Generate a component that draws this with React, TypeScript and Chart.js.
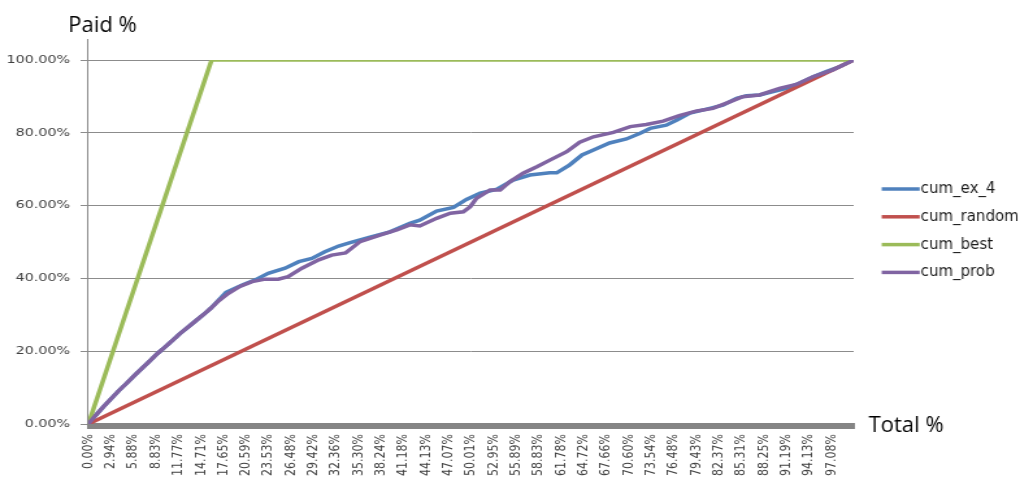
import React, { useEffect, useRef } from 'react';
import { Chart, registerables } from 'chart.js';

Chart.register(...registerables);

// Category labels shown along the bottom axis (share of total, %)
const xTickLabels = [
  '0.00%', '2.94%', '5.88%', '8.83%', '11.77%', '14.71%', '17.65%', '20.59%', '23.53%',
  '26.48%', '29.42%', '32.36%', '35.30%', '38.24%', '41.18%', '44.13%', '47.07%', '50.01%',
  '52.95%', '55.89%', '58.83%', '61.78%', '64.72%', '67.66%', '70.60%', '73.54%', '76.48%',
  '79.43%', '82.37%', '85.31%', '88.25%', '91.19%', '94.13%', '97.08%',
];
const yTickValues = [0, 20, 40, 60, 80, 100];

// cum_ex_4
const exTotal = [
  0, 1, 2, 3, 4, 5, 6, 7, 8, 9, 10, 11, 12, 13, 14, 15, 16, 17, 18,
  20.1, 21.8, 23.5, 25.7, 27.5, 29.2, 30.9, 32.7, 34.2,
  36.8, 39.4, 42.0, 43.3, 45.5, 47.7, 49.4, 51.2, 53.4, 55.5,
  57.7, 60.3, 61.2, 62.9, 64.5, 66.0, 68.1, 70.3, 72.1, 73.4,
  75.5, 76.9, 78.6, 80.8, 82.9, 84.7, 86.0, 87.7, 89.5, 91.2,
  92.9, 94.7, 96.4, 98.2, 100,
];
const exPaid = [
  0, 2.5, 4.8, 7.0, 9.2, 11.2, 13.3, 15.3, 17.3, 19.3, 21.1, 23.0, 24.9, 26.6, 28.3, 30.0, 31.8, 34.0, 36.2,
  38.2, 39.6, 41.4, 42.8, 44.6, 45.5, 47.3, 48.9, 49.8,
  51.3, 52.8, 55.1, 56.0, 58.5, 59.5, 61.7, 63.4, 64.5, 67.0,
  68.4, 69.0, 69.0, 71.2, 73.9, 75.3, 77.2, 78.3, 79.9, 81.2,
  82.1, 83.5, 85.4, 86.5, 87.6, 89.5, 90.2, 90.4, 91.3, 92.2,
  93.6, 95.4, 96.8, 98.2, 100,
];

// cum_random
const randomTotal = [0, 100];
const randomPaid = [0, 100];

// cum_best
const bestTotal = [0, 16.1, 100];
const bestPaid = [0, 100, 100];

// cum_prob
const probTotal = [
  0, 1, 2, 3, 4, 5, 6, 7, 8, 9, 10, 11, 12, 13, 14, 15, 16, 17,
  18.3, 19.8, 21.4, 23.1, 24.8, 26.1, 27.9, 30.1, 31.8, 33.6,
  35.5, 38.1, 40.3, 42.0, 43.3, 45.5, 47.3, 49.0, 49.9, 50.7,
  52.5, 53.8, 55.1, 56.8, 58.6, 60.3, 62.5, 64.2, 66.0, 68.6,
  70.8, 72.9, 75.1, 77.2, 79.5, 81.6, 83.8, 85.5, 87.7, 90.3,
  92.5, 94.7, 97.3, 100,
];
const probPaid = [
  0, 2.5, 4.8, 7.0, 9.2, 11.2, 13.3, 15.3, 17.3, 19.3, 21.1, 23.0, 24.9, 26.6, 28.3, 30.0, 31.8, 33.8,
  35.9, 37.8, 39.1, 39.8, 39.8, 40.5, 42.8, 45.1, 46.4, 47.0,
  50.1, 51.9, 53.3, 54.7, 54.4, 56.5, 57.9, 58.3, 59.7, 62.0,
  64.3, 64.3, 66.6, 68.9, 70.7, 72.5, 74.8, 77.4, 78.9, 80.1,
  81.7, 82.3, 83.2, 84.7, 86.0, 86.7, 88.5, 89.9, 90.4, 92.2,
  93.3, 95.4, 97.3, 100,
];

const seriesNames = ['cum_ex_4', 'cum_random', 'cum_best', 'cum_prob'];
const seriesColors = ['#4F81BD', '#C0504D', '#9BBB59', '#8064A2'];

// The canvas is drawn narrow and widened horizontally on screen.
const CANVAS_W = 785;
const CANVAS_H = 479;
const STRETCH = 1020 / CANVAS_W;

const toPoints = (xs: number[], ys: number[]) => xs.map((x, i) => ({ x, y: ys[i] }));

const decorations = {
  id: 'decorations',
  beforeDatasetsDraw(chart: any) {
    const { ctx, chartArea } = chart;
    ctx.save();
    // vertical axis, running a little above the plot
    ctx.strokeStyle = '#8c8c8c';
    ctx.lineWidth = 1;
    ctx.beginPath();
    ctx.moveTo(chartArea.left - 0.5, chartArea.top - 21);
    ctx.lineTo(chartArea.left - 0.5, chartArea.bottom);
    ctx.stroke();
    // heavy horizontal axis bar
    ctx.fillStyle = '#858585';
    ctx.fillRect(chartArea.left - 1, chartArea.bottom - 1, chartArea.right - chartArea.left + 2, 6);
    ctx.restore();
  },
  afterDraw(chart: any) {
    const { ctx, chartArea } = chart;
    const leftS = chartArea.left * STRETCH;
    const rightS = chartArea.right * STRETCH;
    ctx.save();
    ctx.scale(1 / STRETCH, 1);
    ctx.textAlign = 'left';
    ctx.textBaseline = 'alphabetic';
    ctx.fillStyle = '#000000';
    ctx.font = '22px "Open Sans"';
    ctx.fillText('Paid %', leftS - 20, chartArea.top - 28);
    ctx.fillText('Total %', rightS + 15, chartArea.bottom + 8);

    ctx.font = '15px "DejaVu Sans"';
    ctx.lineWidth = 3.5;
    chart.data.datasets.forEach((ds: any, i: number) => {
      const y = chartArea.top + 129 + i * 27.8;
      ctx.strokeStyle = ds.borderColor;
      ctx.beginPath();
      ctx.moveTo(rightS + 28, y);
      ctx.lineTo(rightS + 66, y);
      ctx.stroke();
      ctx.fillStyle = '#1a1a1a';
      ctx.fillText(ds.label, rightS + 67, y + 4);
    });
    ctx.restore();
  },
};

export default function App() {
  const canvasRef = useRef<HTMLCanvasElement | null>(null);

  useEffect(() => {
    document.body.style.margin = '0';
    const canvas = canvasRef.current;
    if (!canvas) return;

    const series = [
      toPoints(exTotal, exPaid),
      toPoints(randomTotal, randomPaid),
      toPoints(bestTotal, bestPaid),
      toPoints(probTotal, probPaid),
    ];

    const chart = new Chart(canvas, {
      type: 'line',
      data: {
        datasets: series.map((data, i) => ({
          label: seriesNames[i],
          data,
          borderColor: seriesColors[i],
          backgroundColor: seriesColors[i],
          borderWidth: 3.5,
          pointRadius: 0,
          tension: 0,
          fill: false,
          order: series.length - 1 - i,
        })),
      },
      options: {
        responsive: false,
        animation: false,
        devicePixelRatio: 1,
        layout: { padding: { left: 0, top: 60, right: CANVAS_W - 657, bottom: 0 } },
        plugins: {
          legend: { display: false },
          tooltip: { enabled: false },
        },
        scales: {
          x: {
            type: 'linear',
            min: 0,
            max: 100,
            afterFit: (s: any) => { s.height = 55; },
            afterBuildTicks: (s: any) => {
              s.ticks = xTickLabels.map((l) => ({ value: parseFloat(l) }));
            },
            ticks: {
              autoSkip: false,
              minRotation: 90,
              maxRotation: 90,
              padding: 10,
              color: '#404040',
              font: { family: 'DejaVu Sans', size: 11 },
              callback: (_v: any, i: number) => xTickLabels[i],
            },
            grid: { display: false, drawTicks: false },
            border: { display: false },
          },
          y: {
            type: 'linear',
            min: 0,
            max: 100,
            afterFit: (s: any) => { s.width = 68; },
            afterBuildTicks: (s: any) => {
              s.ticks = yTickValues.map((v) => ({ value: v }));
            },
            ticks: {
              padding: 8,
              color: '#404040',
              font: { family: 'DejaVu Sans', size: 11 },
              callback: (v: any) => Number(v).toFixed(2) + '%',
            },
            grid: { color: '#8c8c8c', lineWidth: 1, tickLength: 6, drawTicks: true },
            border: { display: false },
          },
        },
      },
      plugins: [decorations],
    });

    return () => chart.destroy();
  }, []);

  return (
    <div style={{ position: 'absolute', left: 0, top: 0, width: 1020, height: 479, overflow: 'hidden', background: '#ffffff' }}>
      <canvas
        ref={canvasRef}
        width={CANVAS_W}
        height={CANVAS_H}
        style={{ display: 'block', transform: `scaleX(${STRETCH})`, transformOrigin: '0 0' }}
      />
    </div>
  );
}
